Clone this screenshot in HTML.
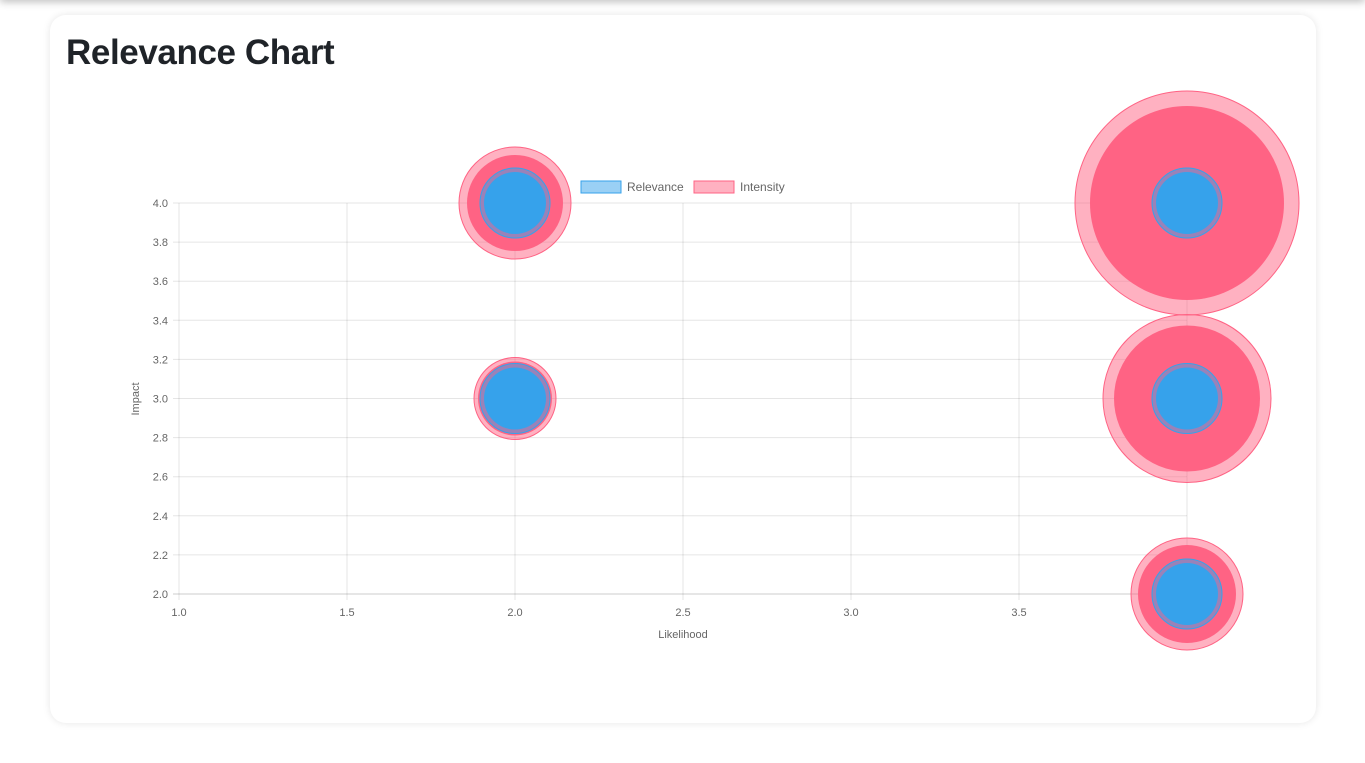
<!DOCTYPE html>
<html><head><meta charset="utf-8"><style>
body{margin:0;width:1365px;height:763px;background:#fff;font-family:"Liberation Sans",Arial,sans-serif;overflow:hidden;position:relative}
.topbar{position:absolute;left:0;top:-10px;width:1365px;height:10px;box-shadow:0 2px 8px rgba(0,0,0,0.25)}
.card{position:absolute;left:50px;top:15px;width:1266px;height:708px;border-radius:16px;background:#fff;box-shadow:0 0 8px rgba(0,0,0,0.1)}
h1{position:absolute;left:16px;top:18px;margin:0;font-size:35px;letter-spacing:-0.4px;font-weight:bold;color:#1f2328;line-height:40px}
svg{position:absolute;left:0;top:0}
</style></head><body>
<div class="topbar"></div>
<div class="card"><h1>Relevance Chart</h1></div>
<svg id="chart" width="1365" height="763" font-family="Liberation Sans, Arial, sans-serif"></svg>
<script>
const xTicks=[1.0,1.5,2.0,2.5,3.0,3.5,4.0];
const yTicks=[2.0,2.2,2.4,2.6,2.8,3.0,3.2,3.4,3.6,3.8,4.0];
const pointX=[2,2,4,4,4];
const pointY=[4,3,4,3,2];
const intensityOuter=[56,41,112,84,56];
const intensityInner=[48,37,97,73,49];
const relevanceOuter=[35,35,35,35,35];
const relevanceInner=[31,31,31,31,31];
const svg=document.getElementById('chart');
const NS='http://www.w3.org/2000/svg';
const X=v=>179+(v-1)*(1187-179)/3;
const Y=v=>594-(v-2)*(594-203)/2;
function mk(t,a){const e=document.createElementNS(NS,t);for(const k in a)e.setAttribute(k,a[k]);svg.appendChild(e);return e;}
xTicks.forEach(t=>{const l=mk('line',{x1:X(t),x2:X(t),y1:203,y2:600,stroke:'rgba(0,0,0,0.1)'});


const tx=mk('text',{x:X(t),y:616,'text-anchor':'middle','font-size':11,fill:'#666'});tx.textContent=t.toFixed(1);

});
yTicks.forEach(t=>{const l=mk('line',{x1:173,x2:1187,y1:Y(t),y2:Y(t),stroke:t===2?'rgba(0,0,0,0.2)':'rgba(0,0,0,0.1)'});


const tx=mk('text',{x:168,y:Y(t)+4,'text-anchor':'end','font-size':11,fill:'#666'});tx.textContent=t.toFixed(1);

});
let xt=mk('text',{x:683,y:638,'text-anchor':'middle','font-size':11,fill:'#666'});xt.textContent='Likelihood';


let yt=mk('text',{x:0,y:0,'text-anchor':'middle','font-size':11,fill:'#666',transform:'translate(139,399) rotate(-90)'});yt.textContent='Impact';


pointX.forEach((px,i)=>{const cx=X(px),cy=Y(pointY[i]);
const o=mk('circle',{cx,cy,r:intensityOuter[i],fill:'rgba(255,99,132,0.5)',stroke:'rgb(255,99,132)','stroke-width':1});


const n=mk('circle',{cx,cy,r:intensityInner[i],fill:'#ff6384'});

});
pointX.forEach((px,i)=>{const cx=X(px),cy=Y(pointY[i]);
const o=mk('circle',{cx,cy,r:relevanceOuter[i],fill:'rgba(54,162,235,0.5)',stroke:'rgb(54,162,235)','stroke-width':1});


const n=mk('circle',{cx,cy,r:relevanceInner[i],fill:'#36a2eb'});

});
const leg=[['Relevance','rgba(54,162,235,0.5)','rgb(54,162,235)',581],['Intensity','rgba(255,99,132,0.5)','rgb(255,99,132)',694]];
leg.forEach(l=>{const r=mk('rect',{x:l[3],y:181,width:40,height:12,fill:l[1],stroke:l[2],'stroke-width':1});


const t=mk('text',{x:l[3]+46,y:191,'font-size':12,fill:'#666'});t.textContent=l[0];

});
</script>
</body></html>
